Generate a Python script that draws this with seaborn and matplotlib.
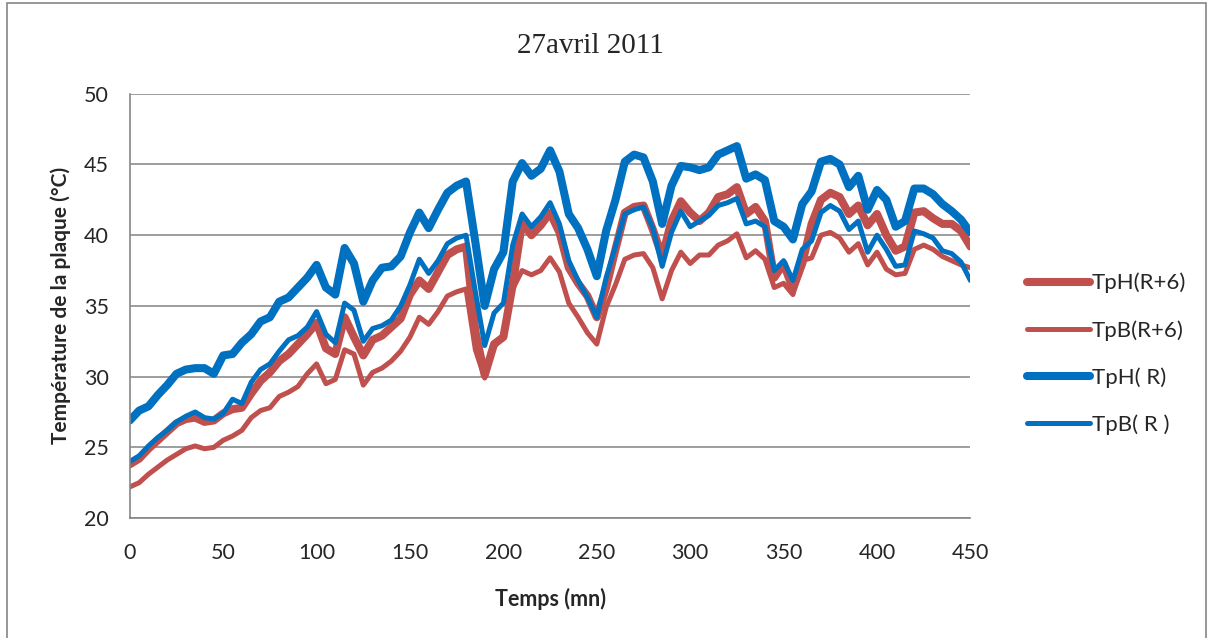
import numpy as np
import pandas as pd
import matplotlib
matplotlib.use("Agg")
import matplotlib.pyplot as plt
import seaborn as sns
from matplotlib.patches import Rectangle

# time in minutes (one reading every 5 mn)
temps = list(range(0, 455, 5))

tph_r6 = [23.8, 24.2, 24.9, 25.5, 26.1, 26.7, 27.0, 27.1, 26.8, 26.9,
          27.4, 27.7, 27.8, 28.8, 29.7, 30.3, 31.1, 31.6, 32.3, 33.0,
          33.8, 32.0, 31.6, 34.2, 32.8, 31.5, 32.6, 32.9, 33.5, 34.1,
          35.8, 36.8, 36.2, 37.4, 38.6, 39.0, 39.2, 33.2, 30.1, 32.3,
          32.8, 36.5, 40.9, 40.0, 40.7, 41.6, 40.2, 37.7, 36.6, 35.7,
          34.2, 36.3, 39.0, 41.6, 42.0, 42.1, 40.4, 38.5, 41.0, 42.4,
          41.6, 41.0, 41.6, 42.7, 42.9, 43.4, 41.5, 42.0, 41.0, 37.0,
          38.0, 36.2, 38.0, 40.8, 42.5, 43.0, 42.7, 41.5, 42.1, 40.7,
          41.5, 40.0, 38.9, 39.2, 41.6, 41.7, 41.2, 40.8, 40.8, 40.3,
          39.2]

tpb_r6 = [22.2, 22.5, 23.1, 23.6, 24.1, 24.5, 24.9, 25.1, 24.9, 25.0,
          25.5, 25.8, 26.2, 27.1, 27.6, 27.8, 28.6, 28.9, 29.3, 30.2,
          30.9, 29.5, 29.8, 31.9, 31.6, 29.4, 30.3, 30.6, 31.1, 31.8,
          32.8, 34.2, 33.7, 34.6, 35.7, 36.0, 36.2, 31.9, 29.9, 32.1,
          32.9, 36.2, 37.5, 37.2, 37.5, 38.4, 37.4, 35.2, 34.2, 33.1,
          32.3, 34.9, 36.5, 38.3, 38.6, 38.7, 37.7, 35.5, 37.5, 38.8,
          38.0, 38.6, 38.6, 39.3, 39.6, 40.1, 38.4, 38.9, 38.3, 36.3,
          36.6, 35.8, 38.2, 38.4, 40.0, 40.2, 39.8, 38.8, 39.4, 37.9,
          38.8, 37.6, 37.2, 37.3, 39.0, 39.3, 39.0, 38.5, 38.2, 37.9,
          37.7]

tph_r = [26.9, 27.6, 27.9, 28.7, 29.4, 30.2, 30.5, 30.6, 30.6, 30.2,
         31.5, 31.6, 32.4, 33.0, 33.9, 34.2, 35.3, 35.6, 36.3, 37.0,
         37.9, 36.3, 35.8, 39.1, 38.0, 35.3, 36.8, 37.7, 37.8, 38.5,
         40.2, 41.6, 40.5, 41.8, 43.0, 43.5, 43.8, 39.5, 35.0, 37.6,
         38.8, 43.8, 45.1, 44.2, 44.7, 46.0, 44.5, 41.5, 40.5, 39.0,
         37.1, 40.3, 42.5, 45.2, 45.7, 45.5, 43.8, 40.8, 43.5, 44.9,
         44.8, 44.6, 44.8, 45.7, 46.0, 46.3, 44.0, 44.3, 43.9, 41.0,
         40.6, 39.7, 42.2, 43.1, 45.2, 45.4, 45.0, 43.4, 44.2, 41.8,
         43.2, 42.5, 40.6, 41.0, 43.3, 43.3, 42.9, 42.2, 41.7, 41.1,
         40.2]

tpb_r = [24.0, 24.4, 25.1, 25.7, 26.2, 26.8, 27.2, 27.5, 27.1, 27.0,
         27.4, 28.4, 28.1, 29.6, 30.5, 30.9, 31.8, 32.6, 32.9, 33.5,
         34.6, 33.0, 32.4, 35.2, 34.7, 32.5, 33.4, 33.6, 34.0, 35.0,
         36.5, 38.3, 37.3, 38.2, 39.4, 39.8, 40.0, 36.0, 32.2, 34.5,
         35.2, 39.3, 41.5, 40.6, 41.3, 42.3, 40.8, 38.2, 36.8, 35.6,
         34.2, 37.0, 39.2, 41.5, 41.8, 42.0, 40.5, 37.8, 40.2, 41.7,
         40.6, 41.0, 41.4, 42.1, 42.3, 42.6, 40.8, 41.0, 40.6, 37.5,
         38.2, 36.8, 39.0, 39.6, 41.6, 42.1, 41.7, 40.4, 41.0, 38.8,
         40.0, 39.0, 37.8, 37.9, 40.3, 40.1, 39.8, 38.9, 38.7, 38.1,
         36.8]

labels = ["TpH(R+6)", "TpB(R+6)", "TpH( R)", "TpB( R )"]
series = [tph_r6, tpb_r6, tph_r, tpb_r]
colors = ["#C0504D", "#C0504D", "#0070C0", "#0070C0"]
widths = [5.8, 3.6, 5.8, 3.6]

sns.set_style("white")
plt.rcParams['font.family'] = ['Lato', 'DejaVu Sans']

fig = plt.figure(figsize=(12.13, 6.38), dpi=100)
ax = fig.add_axes([0.107, 0.188, 0.693, 0.665])

for name, vals, col, lw in zip(labels, series, colors, widths):
    df = pd.DataFrame({"t": temps, "v": vals})
    sns.lineplot(data=df, x="t", y="v", ax=ax, color=col, linewidth=lw,
                 label=name, solid_capstyle="round", solid_joinstyle="round")

ax.set_xlim(0, 450)
ax.set_ylim(20, 50)
ax.set_xticks(range(0, 451, 50))
ax.set_yticks(range(20, 51, 5))
ax.tick_params(axis="both", labelsize=15.5, direction="out", length=6,
               color="#868686")
ax.tick_params(axis="x", pad=12)
ax.tick_params(axis="y", pad=9)
ax.yaxis.grid(True, color="#8c8c8c", linewidth=1.2)
ax.set_axisbelow(True)
for s in ["top", "right"]:
    ax.spines[s].set_visible(False)
for s in ["left", "bottom"]:
    ax.spines[s].set_color("#868686")
    ax.spines[s].set_linewidth(1.2)

ax.set_xlabel("Temps (mn)", fontsize=15.5, fontweight="bold", labelpad=18)
ax.set_ylabel("Température de la plaque (°C)", fontsize=15,
              fontweight="bold", labelpad=9)

fig.text(0.487, 0.928, "27avril 2011", ha="center", va="center",
         fontsize=21, family=["Liberation Serif", "DejaVu Serif"])

ax.get_legend().remove()
handles, names = ax.get_legend_handles_labels()
fig.legend(handles, names, loc="center left", bbox_to_anchor=(0.847, 0.445),
           frameon=False, fontsize=16, handlelength=2.8, handletextpad=0.1,
           labelspacing=1.2, borderpad=0, borderaxespad=0)

# frame around the whole chart
fig.patches.append(Rectangle((0.006, -0.02), 0.988, 1.015,
                             transform=fig.transFigure, fill=False,
                             edgecolor="#868686", linewidth=1.2))

fig.savefig("out.png", dpi=100)
